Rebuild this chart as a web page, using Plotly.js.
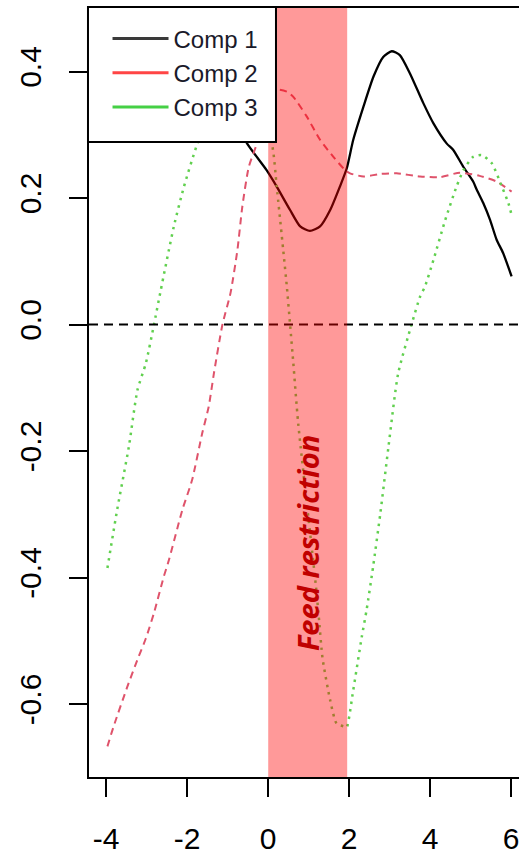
<!DOCTYPE html>
<html>
<head>
<meta charset="utf-8">
<script src="https://cdn.plot.ly/plotly-3.0.1.min.js"></script>
<style>
html, body { margin: 0; padding: 0; overflow: hidden; background: #fff; }
#chart { width: 540px; height: 856px; }
</style>
</head>
<body>
<div id="chart"></div>
<script>
// Series
const comp1X = [-0.75, -0.52, -0.04, 0.21, 0.54, 0.79, 1.03, 1.28, 1.53, 1.77, 1.94, 2.10, 2.35, 2.60, 2.84, 3.05, 3.25, 3.50, 3.83, 4.08, 4.41, 4.57, 4.82, 5.06, 5.15, 5.31, 5.48, 5.64, 5.80, 6.01];
const comp1Y = [0.315, 0.286, 0.244, 0.218, 0.181, 0.155, 0.148, 0.155, 0.181, 0.218, 0.247, 0.292, 0.344, 0.392, 0.423, 0.432, 0.426, 0.397, 0.350, 0.318, 0.286, 0.276, 0.249, 0.226, 0.213, 0.192, 0.165, 0.134, 0.113, 0.076];

const comp2X = [-3.97, -3.82, -3.48, -3.23, -3.02, -2.82, -2.58, -2.45, -2.12, -1.88, -1.63, -1.47, -1.34, -1.13, -0.93, -0.76, -0.64, -0.48, -0.28, 0.0, 0.21, 0.47, 0.62, 0.95, 1.28, 1.61, 1.90, 2.02, 2.35, 2.76, 3.17, 3.75, 4.24, 4.73, 5.22, 5.64, 6.01];
const comp2Y = [-0.667, -0.636, -0.573, -0.530, -0.496, -0.456, -0.399, -0.372, -0.293, -0.246, -0.172, -0.130, -0.077, 0.0, 0.050, 0.118, 0.186, 0.249, 0.286, 0.350, 0.371, 0.368, 0.360, 0.329, 0.292, 0.265, 0.244, 0.239, 0.234, 0.238, 0.239, 0.234, 0.233, 0.240, 0.235, 0.226, 0.210];

const comp3X = [-3.97, -3.73, -3.44, -3.23, -3.02, -2.82, -2.66, -2.33, -2.08, -1.75, -0.8, 0.09, 0.21, 0.37, 0.46, 0.54, 0.62, 0.74, 1.18, 1.26, 1.34, 1.53, 1.69, 1.90, 1.94, 2.10, 2.31, 2.43, 2.59, 2.77, 2.97, 3.21, 3.54, 3.75, 3.87, 4.08, 4.37, 4.65, 4.82, 5.06, 5.27, 5.52, 5.77, 5.93, 6.01];
const comp3Y = [-0.385, -0.293, -0.193, -0.104, -0.061, 0.0, 0.052, 0.155, 0.218, 0.286, 0.45, 0.286, 0.218, 0.118, 0.060, 0.0, -0.061, -0.156, -0.415, -0.470, -0.527, -0.594, -0.631, -0.636, -0.637, -0.578, -0.494, -0.451, -0.383, -0.298, -0.193, -0.077, 0.0, 0.044, 0.060, 0.102, 0.165, 0.218, 0.244, 0.265, 0.268, 0.255, 0.218, 0.192, 0.173];

const seriesNames = ["Comp 1", "Comp 2", "Comp 3"];
const xTickVals = [-4, -2, 0, 2, 4, 6];
const xTickText = ["-4", "-2", "0", "2", "4", "6"];
const yTickVals = [-0.6, -0.4, -0.2, 0.0, 0.2, 0.4];
const yTickText = ["-0.6", "-0.4", "-0.2", "0.0", "0.2", "0.4"];
const feedStart = 0;
const feedEnd = 1.95;
const feedLabel = "Feed restriction";
const refLineY = 0;

const FONT = "'Liberation Sans', Arial, sans-serif";

const traces = [
  { x: comp1X, y: comp1Y, type: "scatter", mode: "lines", name: seriesNames[0], showlegend: false,
    line: { color: "#000000", width: 2.3, shape: "spline", smoothing: 0.6 } },
  { x: comp2X, y: comp2Y, type: "scatter", mode: "lines", name: seriesNames[1], showlegend: false,
    line: { color: "#DF536B", width: 2, dash: "7px,5px", shape: "spline", smoothing: 0.6 } },
  { x: comp3X, y: comp3Y, type: "scatter", mode: "lines", name: seriesNames[2], showlegend: false,
    line: { color: "#61D04F", width: 2.5, dash: "2.5px,5px", shape: "spline", smoothing: 0.6 } },
  // legend entries (solid lines, as in the reference legend)
  { x: [null], y: [null], type: "scatter", mode: "lines", name: seriesNames[0], line: { color: "#3a3a3a", width: 3 } },
  { x: [null], y: [null], type: "scatter", mode: "lines", name: seriesNames[1], line: { color: "#FF4545", width: 3 } },
  { x: [null], y: [null], type: "scatter", mode: "lines", name: seriesNames[2], line: { color: "#45D045", width: 3 } }
];

const layout = {
  width: 540, height: 856,
  margin: { l: 89, r: 10, t: 8, b: 79, pad: 0 },
  paper_bgcolor: "#ffffff", plot_bgcolor: "#ffffff",
  font: { family: FONT, color: "#000000" },
  showlegend: true,
  legend: {
    x: 0.042, y: 0.989, xanchor: "left", yanchor: "top",
    bgcolor: "rgba(0,0,0,0)", borderwidth: 0,
    font: { family: FONT, size: 24, color: "#1a1a2a" },
    itemwidth: 56, traceorder: "normal"
  },
  xaxis: {
    range: [-4.425, 6.464], tickmode: "array", tickvals: xTickVals, ticktext: xTickText,
    showgrid: false, zeroline: false, showline: true, linecolor: "#000", linewidth: 2, mirror: true,
    ticks: "outside", ticklen: 18, tickwidth: 2, tickcolor: "#000",
    tickfont: { family: FONT, size: 30, color: "#000" }, ticklabelstandoff: 16
  },
  yaxis: {
    range: [-0.7154, 0.5004], tickmode: "array", tickvals: yTickVals, ticktext: yTickText,
    showgrid: false, zeroline: false, showline: true, linecolor: "#000", linewidth: 2, mirror: true,
    ticks: "outside", ticklen: 18, tickwidth: 2, tickcolor: "#000", tickangle: -90,
    tickfont: { family: FONT, size: 30, color: "#000" }, ticklabelstandoff: 16
  },
  shapes: [
    { type: "line", xref: "paper", yref: "y", x0: 0, x1: 1, y0: refLineY, y1: refLineY,
      line: { color: "#000", width: 2, dash: "9px,6px" }, layer: "above" },
    { type: "rect", xref: "x", yref: "paper", x0: feedStart, x1: feedEnd, y0: 0, y1: 1,
      fillcolor: "rgba(255,0,0,0.4)", line: { width: 0 }, layer: "above" },
    { type: "rect", xref: "paper", yref: "paper", x0: -0.0023, x1: 0.424, y0: 0.8257, y1: 1.0013,
      fillcolor: "#ffffff", line: { color: "#000", width: 2 }, layer: "above" }
  ],
  annotations: [
    { x: (feedStart + feedEnd) / 2, y: -0.346, xref: "x", yref: "y", text: feedLabel, showarrow: false,
      textangle: -90, font: { family: "'Open Sans', Lato, sans-serif", size: 29, color: "#C00000", weight: "bold", style: "italic" } }
  ]
};

Plotly.newPlot("chart", traces, layout, { displayModeBar: false, staticPlot: true });
</script>
</body>
</html>
